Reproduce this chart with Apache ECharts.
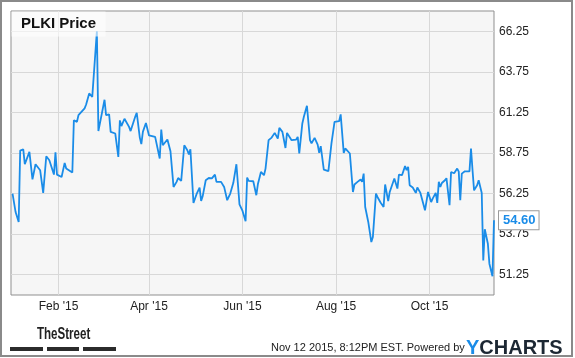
<!DOCTYPE html>
<html>
<head>
<meta charset="utf-8">
<script src="https://cdn.jsdelivr.net/npm/echarts@6/dist/echarts.min.js"></script>
<style>
  html, body { margin: 0; padding: 0; background: #fff; }
  #chart { width: 575px; height: 358px; }
</style>
</head>
<body>
<div id="chart"></div>
<script>
const dates = [
  '2015-01-02','2015-01-04','2015-01-06','2015-01-07','2015-01-09','2015-01-10','2015-01-13','2015-01-15','2015-01-17','2015-01-20',
  '2015-01-22','2015-01-24','2015-01-26','2015-01-29','2015-01-30','2015-01-31','2015-02-03','2015-02-05','2015-02-06','2015-02-10',
  '2015-02-11','2015-02-13','2015-02-14','2015-02-18','2015-02-19','2015-02-21','2015-02-23','2015-02-26','2015-02-27','2015-02-28',
  '2015-03-03','2015-03-04','2015-03-06','2015-03-07','2015-03-10','2015-03-12','2015-03-13','2015-03-14','2015-03-16','2015-03-19',
  '2015-03-20','2015-03-23','2015-03-24','2015-03-26','2015-03-27','2015-03-28','2015-03-30','2015-04-01','2015-04-05','2015-04-06',
  '2015-04-08','2015-04-09','2015-04-10','2015-04-11','2015-04-13','2015-04-15','2015-04-16','2015-04-17','2015-04-19','2015-04-20',
  '2015-04-22','2015-04-23','2015-04-24','2015-04-26','2015-04-27','2015-04-28','2015-04-30','2015-05-02','2015-05-04','2015-05-05',
  '2015-05-06','2015-05-08','2015-05-10','2015-05-12','2015-05-14','2015-05-15','2015-05-18','2015-05-20','2015-05-22','2015-05-24',
  '2015-05-26','2015-05-28','2015-05-29','2015-05-30','2015-06-01','2015-06-03','2015-06-04','2015-06-05','2015-06-08','2015-06-10',
  '2015-06-11','2015-06-13','2015-06-15','2015-06-16','2015-06-17','2015-06-18','2015-06-20','2015-06-22','2015-06-23','2015-06-24',
  '2015-06-25','2015-06-27','2015-06-29','2015-06-30','2015-07-03','2015-07-06','2015-07-07','2015-07-08','2015-07-09','2015-07-10',
  '2015-07-11','2015-07-13','2015-07-15','2015-07-16','2015-07-18','2015-07-20','2015-07-21','2015-07-22','2015-07-24','2015-07-27',
  '2015-07-28','2015-07-29','2015-07-31','2015-08-03','2015-08-04','2015-08-05','2015-08-06','2015-08-07','2015-08-10','2015-08-12',
  '2015-08-13','2015-08-15','2015-08-17','2015-08-18','2015-08-19','2015-08-20','2015-08-22','2015-08-24','2015-08-25','2015-08-27',
  '2015-08-28','2015-08-30','2015-09-01','2015-09-02','2015-09-04','2015-09-05','2015-09-08','2015-09-10','2015-09-11','2015-09-13',
  '2015-09-14','2015-09-15','2015-09-16','2015-09-17','2015-09-18','2015-09-20','2015-09-22','2015-09-23','2015-09-25','2015-09-28',
  '2015-09-30','2015-10-02','2015-10-03','2015-10-05','2015-10-06','2015-10-07','2015-10-08','2015-10-09','2015-10-11','2015-10-12',
  '2015-10-14','2015-10-15','2015-10-17','2015-10-19','2015-10-20','2015-10-21','2015-10-22','2015-10-24','2015-10-27','2015-10-28',
  '2015-10-29','2015-10-30','2015-11-01','2015-11-02','2015-11-04','2015-11-05','2015-11-06','2015-11-08','2015-11-09','2015-11-11',
  '2015-11-12'
];
const prices = [
  56.25,55.11,54.50,58.90,58.97,58.06,58.82,57.13,58.06,57.69,
  56.29,58.55,58.30,57.42,58.80,57.42,57.27,58.14,57.79,57.55,
  60.77,60.67,61.08,61.50,61.74,62.42,62.21,66.25,60.10,60.02,
  62.03,61.08,61.13,60.05,59.95,58.51,60.76,60.41,60.86,60.36,
  60.10,60.98,61.23,59.70,59.30,60.05,60.60,59.83,59.74,59.66,
  58.41,60.20,59.23,59.34,59.58,58.86,58.82,56.66,56.97,57.21,
  57.03,57.07,59.23,58.92,58.66,58.98,55.67,56.21,56.62,55.80,
  56.08,57.07,57.21,57.19,57.42,56.97,56.97,56.66,55.84,56.25,
  56.91,58.06,57.95,55.59,55.18,54.54,57.24,57.03,57.01,56.15,
  56.82,57.58,57.38,57.79,57.79,59.54,59.70,59.99,59.90,59.64,
  60.30,60.05,59.06,59.99,59.54,59.58,59.74,58.72,58.82,60.57,
  60.98,61.66,59.54,59.34,59.68,59.27,58.76,59.17,57.73,57.63,
  57.58,59.34,60.67,60.71,61.13,61.05,58.76,59.03,58.72,56.35,
  56.81,56.97,57.12,56.97,57.48,55.42,54.50,53.26,53.57,56.25,
  56.04,55.70,55.42,56.81,55.78,56.35,57.18,56.56,57.42,57.38,
  57.42,57.94,57.69,57.90,56.76,56.62,56.29,56.62,56.29,55.22,
  56.35,55.73,55.94,56.29,55.67,56.97,56.66,56.90,57.07,57.20,
  55.53,57.58,57.50,57.79,57.60,55.84,57.48,57.62,57.62,59.03,
  57.69,56.45,56.76,57.07,56.29,52.13,54.05,53.16,51.93,51.15,
  54.60
];
const xStart = '2015-01-01';
const xEnd = '2015-11-12';
const xTickDates = ['2015-02-01','2015-04-01','2015-06-01','2015-08-01','2015-10-01'];
const xTickLabels = ["Feb '15","Apr '15","Jun '15","Aug '15","Oct '15"];
const yTickValues = [51.25, 53.75, 56.25, 58.75, 61.25, 63.75, 66.25];
const lastLabel = '54.60';

const toTime = d => echarts.number.parseDate(d).getTime();
const chart = echarts.init(document.getElementById('chart'), null, { renderer: 'canvas' });
const seriesData = dates.map((d, i) => [toTime(d), prices[i]]);
const xTickTimes = xTickDates.map(toTime);
const FONT = "'Liberation Sans', Arial, sans-serif";

chart.setOption({
  animation: false,
  backgroundColor: '#ffffff',
  grid: {
    left: 11, right: 81, top: 11, bottom: 63,
    show: true, backgroundColor: '#f6f6f6', borderColor: '#8f8f8f', borderWidth: 1
  },
  xAxis: {
    type: 'value',
    min: toTime(xStart),
    max: toTime(xEnd),
    axisLine: { show: false },
    axisTick: { show: false, customValues: xTickTimes },
    axisLabel: {
      customValues: xTickTimes,
      margin: 6,
      color: '#222',
      fontSize: 12,
      fontFamily: FONT,
      formatter: function (v) {
        const i = xTickTimes.indexOf(v);
        return i >= 0 ? xTickLabels[i] : '';
      }
    },
    splitLine: { show: true, lineStyle: { color: '#d8d8d8', width: 1 } }
  },
  yAxis: {
    type: 'value',
    position: 'right',
    min: 50,
    max: 67.5,
    axisLine: { show: false },
    axisTick: { show: false, customValues: yTickValues },
    axisLabel: {
      customValues: yTickValues,
      margin: 5,
      color: '#222',
      fontSize: 12,
      fontFamily: FONT,
      formatter: v => v.toFixed(2)
    },
    splitLine: { show: true, lineStyle: { color: '#d8d8d8', width: 1 } }
  },
  series: [{
    type: 'line',
    data: seriesData,
    showSymbol: false,
    symbol: 'none',
    lineStyle: { color: '#1a8ce8', width: 1.8 },
    endLabel: {
      show: true,
      formatter: lastLabel,
      distance: 5,
      color: '#1a8ce8',
      fontWeight: 'bold',
      fontSize: 13,
      fontFamily: FONT,
      backgroundColor: '#ffffff',
      borderColor: '#9a9a9a',
      borderWidth: 1,
      padding: [3, 3, 2, 4]
    }
  }],
  graphic: [
    { type: 'rect', shape: { x: 1, y: 1, width: 571, height: 355 }, style: { fill: null, stroke: '#8a8a8a', lineWidth: 2 }, silent: true, z: 100 },
    { type: 'rect', shape: { x: 11.5, y: 11.5, width: 94, height: 25 }, style: { fill: 'rgba(255,255,255,0.6)' }, z: 50 },
    { type: 'text', left: 21, top: 16, style: { text: 'PLKI Price', fill: '#111', font: "bold 15px 'Liberation Sans', Arial, sans-serif" }, z: 51 },
    { type: 'text', x: 37, y: 326, scaleX: 0.68, scaleY: 1, style: { text: 'TheStreet', fill: '#222', font: "bold 17px 'Liberation Sans', Arial, sans-serif" } },
    { type: 'rect', shape: { x: 10, y: 347, width: 33, height: 4 }, style: { fill: '#2b2b2b' } },
    { type: 'rect', shape: { x: 47, y: 347, width: 32, height: 4 }, style: { fill: '#2b2b2b' } },
    { type: 'rect', shape: { x: 83, y: 347, width: 33, height: 4 }, style: { fill: '#2b2b2b' } },
    { type: 'text', left: 271, top: 342, style: { text: 'Nov 12 2015, 8:12PM EST. Powered by', fill: '#222', font: "11px 'Liberation Sans', Arial, sans-serif" } },
    { type: 'text', left: 466, top: 338, style: {
        text: '{y|Y}{c|CHARTS}',
        rich: {
          y: { fill: '#1a8ce8', font: "bold 20px 'Liberation Sans', Arial, sans-serif" },
          c: { fill: '#1c2733', font: "bold 20px 'Liberation Sans', Arial, sans-serif" }
        }
      } }
  ]
});
</script>
</body>
</html>
